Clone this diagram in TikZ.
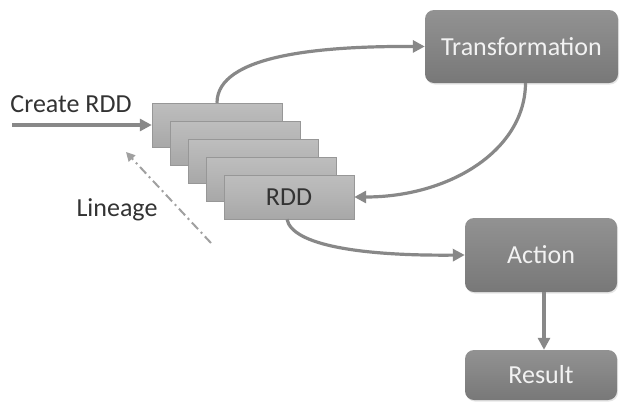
\documentclass[tikz,border=0pt]{standalone}
\usepackage{fontspec}
\setmainfont{Carlito}
\usetikzlibrary{arrows.meta,shadows}
\definecolor{arrowgray}{HTML}{888888}
\definecolor{lingray}{HTML}{A0A0A0}
\definecolor{boxtop}{HTML}{929292}
\definecolor{boxbot}{HTML}{787878}
\definecolor{stacktop}{HTML}{BEBEBE}
\definecolor{stackbot}{HTML}{A8A8A8}
\definecolor{txtdark}{HTML}{333333}
\begin{document}
\begin{tikzpicture}[x=1pt,y=-1pt,
  font=\fontsize{26}{29}\selectfont,
  stackbox/.style={rectangle, minimum width=130pt, minimum height=44pt, top color=stacktop, bottom color=stackbot, draw=stackbot!90!black, line width=0.4pt, text=txtdark, inner sep=0pt},
  procbox/.style={rectangle, rounded corners=9pt, top color=boxtop, bottom color=boxbot, draw=none, text=white!95!black, inner sep=0pt, drop shadow={opacity=0.2, shadow xshift=1pt, shadow yshift=-1.5pt}},
  flow/.style={draw=arrowgray, line width=3.2pt, -{Triangle[length=12pt,width=12pt]}},
  lin/.style={draw=lingray, line width=2pt, dash pattern=on 9pt off 4pt on 2pt off 4pt, -{Triangle[length=9pt,width=9pt]}}
]
\useasboundingbox (0,0) rectangle (621,405);
\fill[white] (0,0) rectangle (621,405);

% stacked RDD boxes
\node[stackbox] (r1) at (217,125) {};
\node[stackbox] (r2) at (235,143) {};
\node[stackbox] (r3) at (253,161) {};
\node[stackbox] (r4) at (271,179) {};
\node[stackbox] (r5) at (289,197) {RDD};

% process boxes
\node[procbox, minimum width=193pt, minimum height=73pt] (T) at (521.5,46.5) {Transformation};
\node[procbox, minimum width=152pt, minimum height=74pt] (A) at (541,255) {Action};
\node[procbox, minimum width=152pt, minimum height=50pt] (R) at (541,375) {Result};

% labels
\node[text=txtdark, anchor=center] (cl) at (71,104) {Create RDD};
\node[text=txtdark, anchor=center] (ll) at (117,210) {Lineage};

% connectors
\coordinate (cs) at (12,125);
\draw[flow] (cs) -- (r1.west);
\draw[flow] (r1.north) .. controls (217,55) and (320,46) .. (T.west);
\draw[flow] ([xshift=4pt]T.south) .. controls (525,150) and (450,197) .. (r5.east);
\draw[flow] ([xshift=-2pt]r5.south) .. controls (292,245) and (360,256) .. (A.west);
\draw[flow] ([xshift=3pt]A.south) -- ([xshift=3pt]R.north);

\coordinate (ls) at (211,243);
\coordinate (le) at (126,152);
\draw[lin] (ls) -- (le);
\end{tikzpicture}
\end{document}
